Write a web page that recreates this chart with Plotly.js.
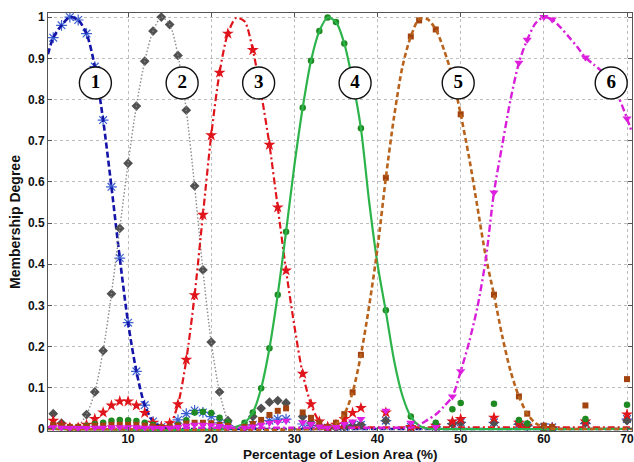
<!DOCTYPE html>
<html>
<head>
<meta charset="utf-8">
<script src="https://cdn.plot.ly/plotly-3.0.1.min.js"></script>
<style>html,body{margin:0;padding:0;background:#fff}#chart{width:634px;height:462px}</style>
</head>
<body>
<div id="chart"></div>
<script>
// ---- fitted membership curves ----
const line1X = [0.37,1,2,3,4,5,6,7,8,9,10,11,12,13,14,15,16,70.6];
const line1Y = [0.91,0.95,0.98,1.0,0.993,0.96,0.88,0.75,0.588,0.415,0.258,0.14,0.058,0.018,0.004,0,0,0];

const line2X = [0.37,3,4,5,6,7,8,9,10,11,12,13,14,15,16,17,18,19,20,21,22,23,24,70.6];
const line2Y = [0,0,0.008,0.035,0.09,0.19,0.328,0.487,0.645,0.784,0.893,0.966,1.0,0.982,0.907,0.774,0.59,0.386,0.211,0.09,0.022,0.002,0,0];

const line3X = [0.37,14,15,16,17,18,19,20,21,22,23,24,25,26,27,28,29,30,31,32,33,34,35,70.6];
const line3Y = [0.004,0.004,0.01,0.06,0.168,0.325,0.52,0.713,0.865,0.96,0.998,0.99,0.92,0.815,0.69,0.538,0.385,0.25,0.134,0.06,0.018,0.004,0.004,0.004];

const line4X = [0.37,22,23,24,25,26,27,28,29,30,31,32,33,34,35,36,37,38,39,40,41,42,43,44,45,46,47,70.6];
const line4Y = [0,0,0.005,0.015,0.04,0.099,0.196,0.326,0.479,0.64,0.78,0.894,0.966,0.999,0.988,0.936,0.845,0.73,0.55,0.40,0.285,0.165,0.08,0.03,0.008,0.001,0,0];

const line5X = [0.37,33,34,35,36,37,38,39,40,41,42,43,44,45,46,47,48,49,50,51,52,53,54,55,56,57,58,59,60,61,62,70.6];
const line5Y = [0,0,0.003,0.012,0.036,0.089,0.18,0.3,0.44,0.61,0.76,0.88,0.953,0.995,0.995,0.97,0.92,0.855,0.764,0.66,0.54,0.42,0.326,0.225,0.14,0.079,0.037,0.014,0.004,0.001,0,0];

const line6X = [0.37,43,44,45,46,47,48,49,50,51,52,53,54,55,56,57,58,59,60,61,62,63,64,65,66,67,68,69,70,70.6];
const line6Y = [0.003,0.003,0.003,0.01,0.022,0.035,0.055,0.079,0.14,0.21,0.295,0.41,0.574,0.69,0.8,0.889,0.945,0.985,1.0,0.994,0.975,0.952,0.928,0.902,0.885,0.868,0.845,0.805,0.754,0.72];

// ---- sampled membership degrees (markers) ----
const left = [1,2,3,4,5,6,7,8,9,10,11,12,13,14,15,16,17,18,19,20,21,22];

const pts1X = [1,2,3,4,5,6,7,8,9,10,11,12,13,14,16,17,18,19,20,21,22,25,27,28,29,31,32,34,36,37,38,41,44,47,49,50,54,57,58,60,61,65,70];
const pts1Y = [0.95,0.98,1.0,0.993,0.96,0.88,0.75,0.588,0.415,0.258,0.14,0.058,0.018,0.005,0.022,0.037,0.045,0.04,0.03,0.015,0.008,0.01,0.02,0.024,0.024,0.012,0.008,0.003,0.005,0.01,0.01,0.02,0.005,0.005,0.013,0.016,0.016,0.011,0.008,0.004,0.004,0.013,0.024];

const pts2X = left.concat([24,25,26,27,28,29,31,32,33,34,35,36,37,38,41,44,47,49,50,54,57,58,60,61,65,70]);
const pts2Y = [0.037,0.014,0.003,0.003,0.035,0.09,0.19,0.328,0.487,0.645,0.784,0.893,0.966,1.0,0.982,0.907,0.774,0.59,0.386,0.211,0.09,0.02,
               0.003,0.03,0.05,0.065,0.069,0.063,0.03,0.015,0.008,0.003,0.003,0.005,0.008,0.01,0.02,0.005,0.005,0.012,0.015,0.015,0.012,0.008,0.002,0.002,0.015,0.02];

const pts3X = left.concat([25,27,28,29,31,32,33,34,35,36,37,38,41,44,47,49,50,54,57,58,60,61,65,70]);
const pts3Y = [0.02,0.01,0.003,0.003,0.01,0.024,0.04,0.057,0.067,0.067,0.057,0.039,0.015,0.005,0.014,0.06,0.168,0.325,0.52,0.713,0.865,0.96,
               0.92,0.69,0.538,0.385,0.134,0.06,0.018,0.005,0.01,0.024,0.039,0.051,0.04,0.005,0.008,0.018,0.024,0.027,0.015,0.008,0.002,0.002,0.018,0.035];

const pts4X = left.concat([24,25,26,27,28,29,31,32,33,34,35,36,38,41,44,47,49,50,54,57,58,60,61,65,70]);
const pts4Y = [0.008,0.006,0.003,0.003,0.008,0.012,0.015,0.02,0.022,0.021,0.019,0.015,0.01,0.003,0.005,0.01,0.021,0.04,0.042,0.039,0.027,0.017,
               0.015,0.04,0.099,0.196,0.326,0.479,0.78,0.894,0.966,0.999,0.988,0.936,0.73,0.288,0.03,0.015,0.048,0.063,0.061,0.022,0.013,0.003,0.003,0.024,0.059];

const pts5X = left.concat([24,25,26,27,28,29,31,32,33,34,35,36,37,38,41,44,45,47,50,54,57,58,60,61,65,70]);
const pts5Y = [0.01,0.008,0.005,0.005,0.006,0.008,0.008,0.01,0.01,0.01,0.01,0.008,0.006,0.004,0.005,0.008,0.013,0.015,0.015,0.014,0.01,0.008,
               0.005,0.012,0.022,0.034,0.044,0.05,0.04,0.027,0.015,0.005,0.015,0.036,0.089,0.18,0.61,0.953,0.992,0.97,0.764,0.326,0.079,0.037,0.008,0.005,0.057,0.121];

const pts6X = left.concat([24,25,26,27,28,29,31,32,33,34,35,36,37,38,41,44,47,49,50,54,57,58,60,61,65,70]);
const pts6Y = [0.004,0.003,0.002,0.002,0.002,0.003,0.003,0.004,0.004,0.004,0.004,0.003,0.003,0.002,0.003,0.005,0.008,0.01,0.01,0.009,0.007,0.005,
               0.003,0.006,0.01,0.015,0.017,0.02,0.016,0.012,0.006,0.003,0.005,0.012,0.018,0.024,0.044,0.015,0.005,0.079,0.14,0.574,0.889,0.945,1.0,0.994,0.902,0.754];

// ---- class labels ----
const classLabels = ['1','2','3','4','5','6'];
const labelX = [6.07,16.5,25.7,37.3,49.7,68.1];
const labelY = [0.84,0.84,0.84,0.84,0.84,0.84];
const xTitle = 'Percentage of Lesion Area (%)';
const yTitle = 'Membership Degree';

const styles = [
  {lc:'#1414a8', dash:'6px,3px', lw:2.6, mc:'#3a5fd0', sym:'asterisk-open', ms:9},
  {lc:'#8a8a8a', dash:'1.5px,2px', lw:1.4, mc:'#505050', sym:'diamond', ms:7.5},
  {lc:'#e0141b', dash:'7px,3px,2px,3px', lw:2.2, mc:'#e0141b', sym:'star', ms:9},
  {lc:'#2cb34a', dash:'solid', lw:2.2, mc:'#1f8a22', sym:'circle', ms:6.5},
  {lc:'#b8621c', dash:'5px,3px', lw:2.6, mc:'#a2420e', sym:'square', ms:6},
  {lc:'#d81ed8', dash:'7px,3px,2px,3px', lw:2.4, mc:'#e020e0', sym:'triangle-down', ms:8}
];
const lines = [[line1X,line1Y],[line2X,line2Y],[line3X,line3Y],[line4X,line4Y],[line5X,line5Y],[line6X,line6Y]];
const pts = [[pts1X,pts1Y],[pts2X,pts2Y],[pts3X,pts3Y],[pts4X,pts4Y],[pts5X,pts5Y],[pts6X,pts6Y]];

const traces = [];
for (let i = 0; i < 6; i++) {
  const s = styles[i];
  traces.push({x: pts[i][0], y: pts[i][1], type:'scatter', mode:'markers', showlegend:false, cliponaxis:true,
    marker:{symbol:s.sym, size:s.ms, color:s.mc, line:{color:s.mc, width: s.sym==='asterisk-open'?1.2:0}}});
  traces.push({x: lines[i][0], y: lines[i][1], type:'scatter', mode:'lines', showlegend:false,
    line:{color:s.lc, width:s.lw, dash:s.dash, shape:'spline', smoothing:0.8}});
}
traces.push({x: labelX, y: labelY, text: classLabels, type:'scatter', mode:'markers+text', showlegend:false,
  textposition:'middle center',
  textfont:{family:'Liberation Serif, Times New Roman, serif', size:19, color:'#000', weight:'bold'},
  marker:{symbol:'circle', size:32, color:'#ffffff', line:{color:'#111', width:1.4}}});

const axisFont = {family:'Liberation Sans, Arial, sans-serif', size:12, color:'#111', weight:'bold'};
const layout = {
  width:634, height:462,
  margin:{l:48, r:2, t:13, b:31},
  paper_bgcolor:'#fff', plot_bgcolor:'#fff',
  xaxis:{range:[0.37,70.6], tickvals:[10,20,30,40,50,60,70], showgrid:true, gridcolor:'#bdbdbd', griddash:'dot', gridwidth:1,
    zeroline:false, showline:true, linecolor:'#555', linewidth:1, mirror:'allticks', ticks:'inside', ticklen:4, tickcolor:'#555',
    ticklabeloverflow:'allow', ticklabelstandoff:-3, tickfont:axisFont},
  yaxis:{range:[-0.005,1.01], dtick:0.1, tick0:0, showgrid:true, gridcolor:'#bdbdbd', griddash:'dot', gridwidth:1,
    zeroline:false, showline:true, linecolor:'#555', linewidth:1, mirror:'allticks', ticks:'inside', ticklen:4, tickcolor:'#555',
    tickfont:axisFont, title:{text:yTitle, font:{family:'Liberation Sans, Arial, sans-serif', size:14, color:'#111', weight:'bold'}, standoff:4}},
  annotations:[{text:xTitle, xref:'paper', yref:'paper', x:0.5, y:0, xanchor:'center', yanchor:'top', yshift:-14, showarrow:false,
    font:{family:'Liberation Sans, Arial, sans-serif', size:13.5, color:'#111', weight:'bold'}}]
};
Plotly.newPlot('chart', traces, layout, {staticPlot:true, displayModeBar:false});
</script>
</body>
</html>
